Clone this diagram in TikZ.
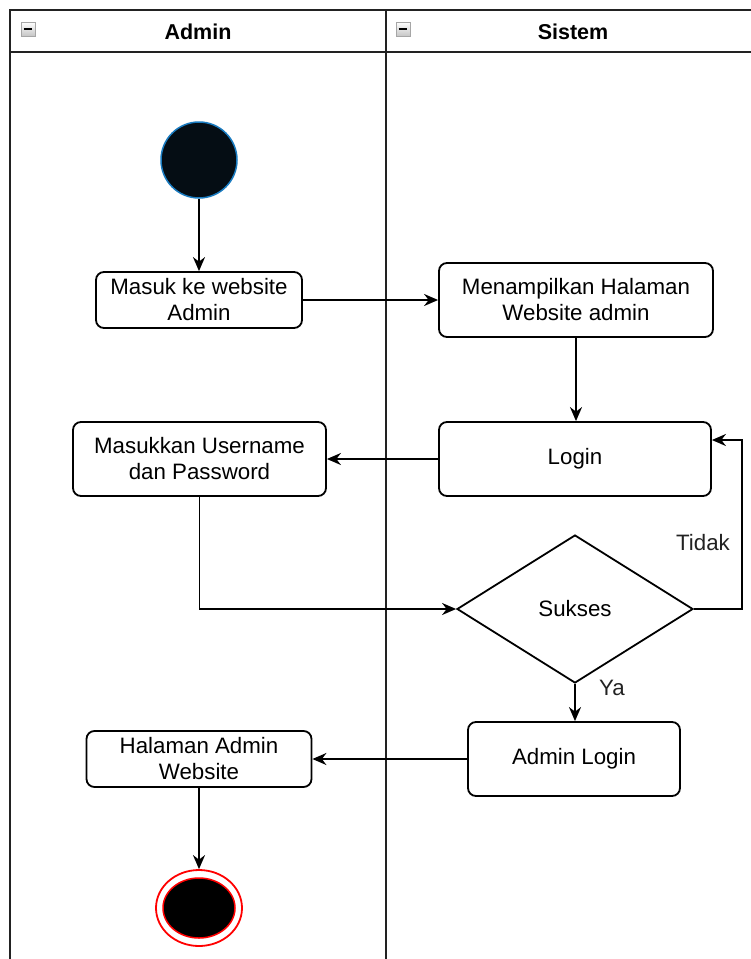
\documentclass[tikz,border=0pt]{standalone}
\usepackage{fontspec}
\setmainfont{Liberation Sans}
\usetikzlibrary{shapes.geometric,arrows.meta,calc}
\definecolor{startfill}{HTML}{050D14}
\definecolor{startline}{HTML}{1A7BC0}
\definecolor{frameline}{HTML}{222222}
\tikzset{
  lane/.style={draw=frameline,line width=2pt},
  actbox/.style={draw=black,line width=1.8pt,rounded corners=8pt,fill=white,align=center,
    inner sep=0pt,font=\fontsize{22.3}{26}\selectfont},
  decis/.style={draw=black,line width=1.8pt,diamond,fill=white,inner sep=0pt,
    font=\fontsize{22.3}{26}\selectfont},
  flow/.style={draw=black,line width=1.8pt,-{Stealth[length=14pt,width=12pt]}},
  lbl/.style={font=\fontsize{22.3}{26}\selectfont,text=frameline},
  hdr/.style={font=\bfseries\fontsize{21.5}{25}\selectfont},
  mini/.style={draw=gray!70,line width=0.6pt,top color=white,bottom color=gray!45,minimum size=14pt,inner sep=0pt}
}
\begin{document}
\begin{tikzpicture}[x=1pt,y=-1pt]
\useasboundingbox (0,0) rectangle (751,959);
\fill[white] (0,0) rectangle (751,959);
\begin{scope}
\clip (0,0) rectangle (751,959);
\draw[lane] (10,970) -- (10,10) -- (770,10);
\draw[lane] (10,52) -- (770,52);
\draw[lane] (386,10) -- (386,970);
\end{scope}
\node[mini] (m1) at (28,29) {};
\draw[black,line width=2.2pt] ($(m1.west)+(3,0)$) -- ($(m1.east)+(-3,0)$);
\node[mini] (m2) at (403,29) {};
\draw[black,line width=2.2pt] ($(m2.west)+(3,0)$) -- ($(m2.east)+(-3,0)$);
\node[hdr] (h1) at (198,32) {Admin};
\node[hdr] (h2) at (573,32) {Sistem};

\node[circle,fill=startfill,draw=startline,line width=1.5pt,minimum size=76pt,inner sep=0pt] (start) at (199,160) {};
\node[actbox,minimum width=206pt,minimum height=56pt] (b1) at (199,300) {Masuk ke website\\Admin};
\node[actbox,minimum width=274pt,minimum height=74pt] (b2) at (576,300) {Menampilkan Halaman\\Website admin};
\node[actbox,minimum width=272pt,minimum height=74pt] (b3) at (575,459) {Login};
\node[actbox,minimum width=253pt,minimum height=74pt] (b4) at (199.5,459) {Masukkan Username\\dan Password};
\node[decis,minimum width=236pt,minimum height=148pt,aspect=1.6] (dia) at (575,609) {Sukses};
\node[actbox,minimum width=212pt,minimum height=74pt] (b5) at (574,759) {Admin Login};
\node[actbox,minimum width=225pt,minimum height=56pt] (b6) at (199,759) {Halaman Admin\\Website};
\node[ellipse,draw=red,line width=1.8pt,fill=white,minimum width=86pt,minimum height=76pt,inner sep=0pt] (endo) at (199,908) {};
\node[ellipse,draw=red,line width=1.5pt,fill=black,minimum width=72pt,minimum height=60pt,inner sep=0pt] (endi) at (199,908) {};

\coordinate (tk) at (742,440);
\draw[flow] (start) -- (b1);
\draw[flow] (b1.east) -- (b2.west);
\draw[flow] (b2.south) -- (b2.south |- b3.north);
\draw[flow] (b3.west) -- (b4.east);
\draw[flow] (b4.south) |- (dia.west);
\draw[flow] (dia.east) -| (tk) -- (b3.east |- tk);
\draw[flow] (dia.south) -- (dia.south |- b5.north);
\draw[flow] (b5.west) -- (b6.east);
\draw[flow] (b6.south) -- (b6.south |- endo.north);
\node[lbl] (tidak) at (703,543) {Tidak};
\node[lbl] (ya) at (612,688) {Ya};
\end{tikzpicture}
\end{document}
